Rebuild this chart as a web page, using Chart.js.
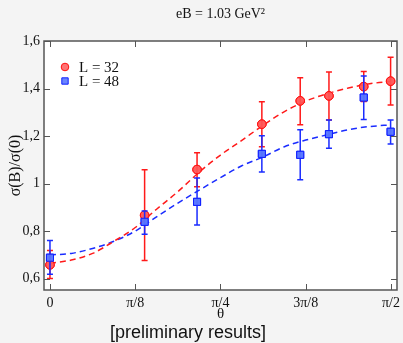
<!DOCTYPE html>
<html><head><meta charset="utf-8">
<script src="https://cdn.jsdelivr.net/npm/chart.js@4/dist/chart.umd.min.js"></script>
<style>html,body{margin:0;padding:0;background:#f4f4f4;}canvas{display:block;}</style>
</head><body>
<canvas id="c" width="403" height="343"></canvas>
<script>
// ---- data (theta in units of pi/8) ----
const titleText = 'eB = 1.03 GeV²';
const yAxisTitle = 'σ(B)/σ(0)';
const xAxisTitle = 'θ';
const footerText = '[preliminary results]';
const xTickValues = [0, 1, 2, 3, 4];
const xTickLabels = ['0', 'π/8', 'π/4', '3π/8', 'π/2'];
const yTickValues = [0.6, 0.8, 1.0, 1.2, 1.4, 1.6];
const yTickLabels = ['0,6', '0,8', '1', '1,2', '1,4', '1,6'];

const seriesNames = ['L = 32', 'L = 48'];
const theta = [0, 1.11, 1.725, 2.485, 2.935, 3.272, 3.68, 3.995];
const l32 = [0.658, 0.867, 1.059, 1.250, 1.348, 1.369, 1.408, 1.431];
const l32Hi = [0.718, 1.058, 1.130, 1.344, 1.445, 1.470, 1.472, 1.532];
const l32Lo = [0.600, 0.676, 0.987, 1.155, 1.248, 1.268, 1.345, 1.331];
const l48 = [0.688, 0.839, 0.923, 1.125, 1.121, 1.208, 1.362, 1.218];
const l48Hi = [0.760, 0.885, 1.023, 1.201, 1.226, 1.268, 1.453, 1.268];
const l48Lo = [0.618, 0.787, 0.826, 1.049, 1.016, 1.149, 1.270, 1.167];

const fitTheta = [0, 0.25, 0.5, 0.75, 1.0, 1.25, 1.5, 1.75, 2.0, 2.25, 2.5, 2.75, 3.0, 3.25, 3.5, 3.75, 4.0];
const fit32 = [0.665, 0.678, 0.706, 0.757, 0.815, 0.892, 0.966, 1.048, 1.120, 1.182, 1.245, 1.303, 1.347, 1.378, 1.402, 1.420, 1.430];
const fit48 = [0.700, 0.706, 0.727, 0.757, 0.800, 0.860, 0.918, 0.972, 1.025, 1.075, 1.112, 1.155, 1.183, 1.205, 1.227, 1.240, 1.247];

const RED = '#ff1a1a', BLUE = '#1a2cff';
const serif = "'Liberation Serif', 'DejaVu Serif', serif";
const sans = "'Liberation Sans', Arial, sans-serif";

const pts = (xs, ys) => xs.map((x, i) => ({x, y: ys[i]}));

const bgPlugin = {
  id: 'bg',
  beforeDraw(chart) {
    const {ctx, chartArea: a} = chart;
    ctx.save();
    ctx.fillStyle = '#ffffff';
    ctx.fillRect(a.left, a.top, a.right - a.left, a.bottom - a.top);
    ctx.restore();
  }
};

const errPlugin = {
  id: 'errbars',
  afterDatasetsDraw(chart) {
    const {ctx} = chart;
    const xs = chart.scales.x, ys = chart.scales.y;
    const sets = [[l32Lo, l32Hi, RED, 2], [l48Lo, l48Hi, BLUE, 3]];
    ctx.save();
    sets.forEach(([lo, hi, col, di]) => {
      ctx.strokeStyle = col;
      ctx.lineWidth = 1.5;
      theta.forEach((t, i) => {
        const px = xs.getPixelForValue(t);
        const y1 = ys.getPixelForValue(lo[i]);
        const y2 = ys.getPixelForValue(hi[i]);
        ctx.beginPath();
        ctx.moveTo(px, y1); ctx.lineTo(px, y2);
        ctx.moveTo(px - 3, y1); ctx.lineTo(px + 3, y1);
        ctx.moveTo(px - 3, y2); ctx.lineTo(px + 3, y2);
        ctx.stroke();
      });
      const meta = chart.getDatasetMeta(di);
      meta.data.forEach(el => el.draw(ctx, chart.chartArea));
    });
    ctx.restore();
  }
};

const framePlugin = {
  id: 'frame',
  afterDraw(chart) {
    const {ctx, chartArea: a} = chart;
    const xs = chart.scales.x, ys = chart.scales.y;
    ctx.save();
    ctx.strokeStyle = '#555555';
    ctx.lineWidth = 1.5;
    ctx.strokeRect(a.left, a.top, a.right - a.left, a.bottom - a.top);
    ctx.lineWidth = 1;
    ctx.beginPath();
    xTickValues.forEach(v => {
      const px = Math.round(xs.getPixelForValue(v)) + 0.5;
      ctx.moveTo(px, a.bottom); ctx.lineTo(px, a.bottom - 6);
      ctx.moveTo(px, a.top); ctx.lineTo(px, a.top + 6);
    });
    yTickValues.forEach(v => {
      const py = Math.round(ys.getPixelForValue(v)) + 0.5;
      ctx.moveTo(a.left, py); ctx.lineTo(a.left + 6, py);
      ctx.moveTo(a.right, py); ctx.lineTo(a.right - 6, py);
    });
    ctx.stroke();

    // legend
    const items = [
      {label: seriesNames[0], ds: chart.data.datasets[2], y: 67},
      {label: seriesNames[1], ds: chart.data.datasets[3], y: 81}
    ];
    items.forEach(it => {
      ctx.fillStyle = it.ds.backgroundColor;
      ctx.strokeStyle = it.ds.borderColor;
      ctx.lineWidth = 1;
      Chart.helpers.drawPoint(ctx, {pointStyle: it.ds.pointStyle, radius: it.ds.pointStyle === 'rect' ? 4.5 : 3.8, borderWidth: 1}, 65, it.y);
      ctx.fillStyle = '#111';
      ctx.font = '15px ' + serif;
      ctx.textBaseline = 'middle';
      ctx.textAlign = 'left';
      ctx.fillText(it.label, 79, it.y + 1);
    });

    // footer
    ctx.fillStyle = '#111';
    ctx.font = '18px ' + sans;
    ctx.textAlign = 'center';
    ctx.textBaseline = 'middle';
    ctx.fillText(footerText, 188, 333);
    ctx.restore();
  }
};

new Chart(document.getElementById('c'), {
  type: 'scatter',
  data: {
    datasets: [
      {label: seriesNames[0] + ' fit', data: pts(fitTheta, fit32), showLine: true, borderColor: RED, borderWidth: 1.5, borderDash: [6, 4], pointRadius: 0, cubicInterpolationMode: 'monotone', fill: false},
      {label: seriesNames[1] + ' fit', data: pts(fitTheta, fit48), showLine: true, borderColor: BLUE, borderWidth: 1.5, borderDash: [6, 4], pointRadius: 0, cubicInterpolationMode: 'monotone', fill: false},
      {label: seriesNames[0], data: pts(theta, l32), pointStyle: 'circle', pointRadius: 4.3, backgroundColor: 'rgba(255,90,90,0.85)', borderColor: '#ff1010', borderWidth: 1},
      {label: seriesNames[1], data: pts(theta, l48), pointStyle: 'rect', pointRadius: 5, backgroundColor: 'rgba(90,120,255,0.9)', borderColor: '#1020ff', borderWidth: 1}
    ]
  },
  options: {
    responsive: false,
    animation: false,
    devicePixelRatio: 1,
    layout: {padding: {left: 0, right: 3, top: 0, bottom: 20}},
    plugins: {
      legend: {display: false},
      tooltip: {enabled: false},
      title: {display: true, text: titleText, fullSize: false, color: '#111', font: {family: serif, size: 14, weight: 'normal'}, padding: {top: 6, bottom: 18.2}}
    },
    scales: {
      x: {
        type: 'linear', min: -0.07, max: 4.07,
        afterBuildTicks: s => { s.ticks = xTickValues.map(v => ({value: v})); },
        afterFit: s => { s.height = 33; s.paddingLeft = 0; s.paddingRight = 0; },
        ticks: {autoSkip: false, maxRotation: 0, padding: 5, color: '#111', font: {family: serif, size: 14}, callback: (v, i) => xTickLabels[i]},
        grid: {display: false, drawTicks: false},
        border: {display: false},
        title: {display: true, text: xAxisTitle, color: '#111', font: {family: serif, size: 15}, padding: 0}
      },
      y: {
        type: 'linear', min: 0.552, max: 1.6,
        afterBuildTicks: s => { s.ticks = yTickValues.map(v => ({value: v})); },
        afterFit: s => { s.width = 44; s.paddingTop = 0; s.paddingBottom = 0; },
        ticks: {autoSkip: false, padding: 4, color: '#111', font: {family: serif, size: 14}, callback: (v, i) => yTickLabels[i]},
        grid: {display: false, drawTicks: false},
        border: {display: false},
        title: {display: true, text: yAxisTitle, color: '#111', font: {family: serif, size: 16}, padding: {top: 6, bottom: 0}}
      }
    }
  },
  plugins: [bgPlugin, errPlugin, framePlugin]
});
</script>
</body></html>
